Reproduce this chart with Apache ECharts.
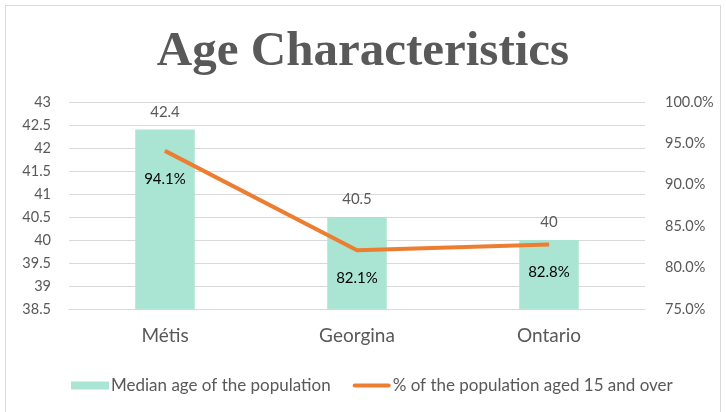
<!DOCTYPE html>
<html>
<head>
<meta charset="UTF-8" />
<title>Age Characteristics</title>
<style>
  html, body { margin: 0; padding: 0; background: #fff; }
  #chart {
    position: absolute; left: 5px; top: 5px;
    width: 716px; height: 420px;
    border: 1px solid #d9d9d9; box-sizing: border-box;
  }
</style>
<script src="https://cdn.jsdelivr.net/npm/echarts@6/dist/echarts.min.js"></script>
</head>
<body>
<div id="chart"></div>
<script>
  // data
  const categories = ['Métis', 'Georgina', 'Ontario'];
  const medianAge = [42.4, 40.5, 40];
  const pctOver15 = [94.1, 82.1, 82.8];

  const textColor = '#595959';
  const font = 'Lato, "Open Sans", sans-serif';

  const chart = echarts.init(document.getElementById('chart'));
  chart.setOption({
    animation: false,
    title: {
      text: 'Age Characteristics',
      left: 'center', top: 17,
      textStyle: { fontFamily: '"Liberation Serif", serif', fontWeight: 'bold', fontSize: 49, color: textColor }
    },
    grid: { left: 63, right: 75, top: 96, bottom: 115 },
    legend: {
      top: 366, left: 60, itemGap: 22, itemWidth: 38, itemHeight: 8,
      textStyle: { fontFamily: font, fontSize: 17, color: textColor, padding: [0, 0, 0, -3] },
      data: [
        { name: 'Median age of the population', icon: 'rect' },
        { name: '% of the population aged 15 and over', icon: 'path://M2,0 H36 A2,2 0 0 1 36,4 H2 A2,2 0 0 1 2,0 Z' }
      ]
    },
    xAxis: {
      type: 'category', data: categories,
      axisTick: { show: false },
      axisLine: { lineStyle: { color: '#d9d9d9' } },
      axisLabel: { fontFamily: font, fontSize: 19, color: textColor, margin: 17 }
    },
    yAxis: [
      {
        type: 'value', min: 38.5, max: 43, interval: 0.5,
        axisLabel: { fontFamily: font, fontSize: 14.5, color: textColor, margin: 18 },
        splitLine: { lineStyle: { color: '#d9d9d9', width: 1 } }
      },
      {
        type: 'value', min: 75, max: 100, interval: 5,
        axisLabel: { fontFamily: font, fontSize: 14.5, color: textColor, margin: 20, formatter: v => v.toFixed(1) + '%' },
        splitLine: { show: false }
      }
    ],
    series: [
      {
        name: 'Median age of the population', type: 'bar', data: medianAge,
        barWidth: '31%',
        itemStyle: { color: '#a9e5d2' },
        label: { show: true, position: 'top', distance: 10, fontFamily: font, fontSize: 15, color: textColor }
      },
      {
        name: '% of the population aged 15 and over', type: 'line', yAxisIndex: 1, data: pctOver15,
        symbol: 'circle', symbolSize: 1, showSymbol: true,
        lineStyle: { color: '#ed7d31', width: 4 },
        itemStyle: { color: '#ed7d31' },
        label: { show: true, position: 'bottom', distance: 20, fontFamily: font, fontSize: 15, color: '#000',
          formatter: p => p.value.toFixed(1) + '%' }
      }
    ]
  });
</script>
</body>
</html>
